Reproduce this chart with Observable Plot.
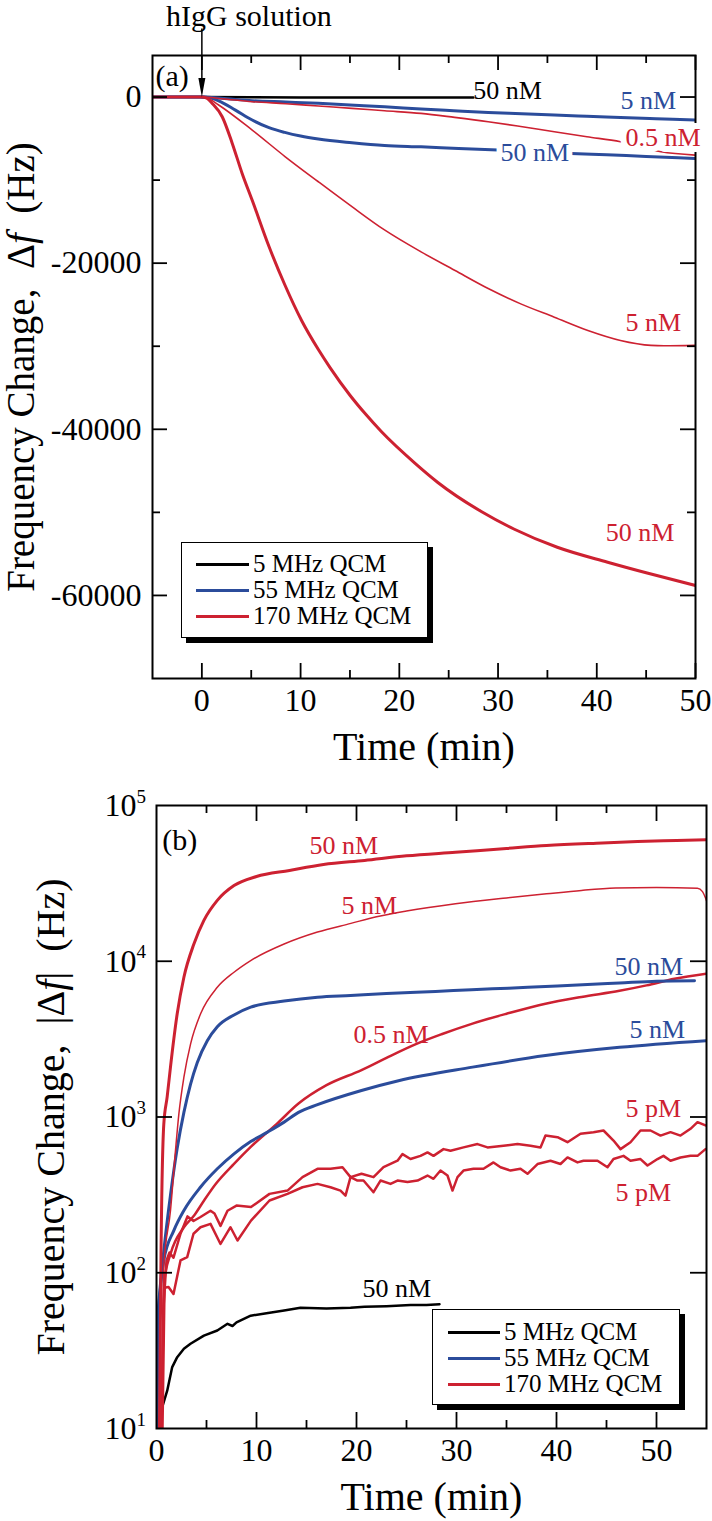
<!DOCTYPE html>
<html><head><meta charset="utf-8">
<script src="https://cdn.jsdelivr.net/npm/d3@7"></script>
<script src="https://cdn.jsdelivr.net/npm/@observablehq/plot@0.6"></script>
<style>
body{margin:0;background:#fff;}
#wrap{position:relative;width:712px;height:1521px;font-family:"Liberation Serif","Times New Roman",serif;overflow:hidden;}
#wrap svg{display:block;}
.legend{position:absolute;background:#fff;border:1.5px solid #000;box-shadow:5px 5px 0 #000;font-size:25px;box-sizing:border-box;}
.legend .row{position:absolute;left:0;height:24px;display:flex;align-items:center;white-space:nowrap;line-height:24px;}
.legend .sw{display:inline-block;height:3px;margin-right:4px;}
</style></head><body><div id="wrap"></div>
<script>
const RED = "#cd2131", BLUE = "#2b4c9b", BLACK = "#000000";

// ---------- Panel (a): frequency change (Hz) vs time (min) ----------
const a_t_5MHz_50nM = [0, 5, 10, 15, 20, 27.5];
const a_f_5MHz_50nM = [0, -40, -50, -55, -60, -60];

const a_t_55MHz_50nM = [-5, 0, 0.8, 1.7, 3.4, 5.1, 6.8, 8.4, 10, 11.8, 15.2, 18.5, 22.2, 26, 30, 33.5, 37.4, 41, 45, 50];
const a_f_55MHz_50nM = [0, 0, -100, -450, -1570, -2770, -3690, -4260, -4700, -5060, -5500, -5830, -6000, -6200, -6390, -6550, -6790, -6950, -7150, -7390];

const a_t_55MHz_5nM = [-5, 0, 2, 5.1, 8.5, 11.8, 15, 18.5, 22.2, 25.5, 29, 32.4, 35.7, 39, 42.4, 46, 50];
const a_f_55MHz_5nM = [0, 0, -150, -440, -600, -760, -960, -1160, -1450, -1650, -1850, -2010, -2170, -2310, -2450, -2600, -2770];

const a_t_170MHz_50nM = [-5, 0, 0.5, 1.05, 2.06, 3.07, 4.08, 5.09, 6.8, 8.4, 10.1, 11.8, 13, 15, 16.6, 18.2, 21.6, 23.9, 28.3, 31.6, 36, 41.1, 45.1, 50];
const a_f_170MHz_50nM = [0, 0, -150, -770, -2370, -5550, -9200, -12400, -18000, -22600, -26900, -30400, -32600, -35900, -38200, -40300, -44100, -46400, -49900, -52000, -54200, -56000, -57300, -58800];

const a_t_170MHz_5nM = [-5, 0, 0.6, 1.7, 5.1, 8.45, 11.8, 15.2, 18.5, 22.2, 25.6, 29, 32.3, 35.7, 39.1, 42.4, 45.5, 46.8, 50];
const a_f_170MHz_5nM = [0, 0, -150, -960, -3980, -7190, -10200, -13200, -16000, -18640, -20850, -23050, -24900, -26500, -28100, -29300, -29900, -29950, -29900];

const a_t_170MHz_05nM = [-5, 0, 2, 5.1, 8.5, 11.8, 15.2, 18.5, 22.2, 25.6, 29, 32.3, 35.7, 39, 42.4, 46.5, 50];
const a_f_170MHz_05nM = [0, 0, -200, -560, -800, -1080, -1360, -1650, -1970, -2450, -2970, -3550, -4180, -4780, -5380, -6590, -7000];

const a_xLabels = [0, 10, 20, 30, 40, 50];
const a_xMinor = [5, 15, 25, 35, 45];
const a_yLabels = [0, -20000, -40000, -60000];
const a_yMinor = [-10000, -30000, -50000];

const a_notes = [
  {t: 27.5, f: 800, text: "50 nM", color: BLACK, halo: false},
  {t: 42.4, f: -400, text: "5 nM", color: BLUE, halo: false},
  {t: 42.9, f: -4835, text: "0.5 nM", color: RED, halo: true},
  {t: 30.25, f: -6737, text: "50 nM", color: BLUE, halo: true},
  {t: 42.9, f: -27140, text: "5 nM", color: RED, halo: false},
  {t: 40.9, f: -52400, text: "50 nM", color: RED, halo: false}
];

// ---------- Panel (b): |frequency change| (Hz), log scale ----------
const b_t_5MHz_50nM = [0.07, 0.57, 1.07, 1.57, 2.07, 2.74, 3.4, 4.74, 6.08, 7.1, 7.6, 8.0, 9.42, 11, 12.76, 14.4, 17, 19.4, 20.8, 23, 25.4, 27, 28.3];
const b_f_5MHz_50nM = [10.2, 13.7, 17.5, 24.8, 28.7, 32.5, 35, 39.5, 42.6, 47, 45.5, 48, 53, 55, 57.2, 59.6, 59, 59.6, 60.5, 61, 62, 62, 62.8];

const b_t_55MHz_50nM = [0.05, 0.1, 0.4, 0.73, 1.4, 2.07, 2.74, 3.4, 4.08, 5.08, 6.08, 7.75, 9.42, 12.76, 16.1, 19.4, 23, 27.9, 31.5, 35.2, 38.9, 42.6, 46.3, 50, 53.8];
const b_f_55MHz_50nM = [10, 45, 85, 138, 316, 630, 1070, 1620, 2240, 3090, 3800, 4520, 5070, 5550, 5880, 6030, 6200, 6400, 6560, 6720, 6890, 7060, 7250, 7450, 7500];

const b_t_55MHz_5nM = [0.05, 0.15, 0.4, 0.73, 1.74, 2.74, 4.41, 6.08, 7.75, 9.42, 11.1, 12.76, 14.2, 16.1, 20.5, 24.2, 31.6, 38.9, 46.3, 55];
const b_f_55MHz_5nM = [10, 45, 80, 120, 187, 251, 355, 465, 580, 695, 800, 927, 1070, 1200, 1480, 1710, 2090, 2480, 2800, 3090];

const b_t_170MHz_50nM = [0.3, 0.45, 0.73, 1.07, 1.4, 2.07, 2.74, 3.74, 4.74, 6.08, 7.75, 10, 13.3, 16.7, 20.8, 25, 29.9, 35, 39, 44, 48.1, 52, 55];
const b_f_170MHz_50nM = [10, 130, 900, 1350, 2100, 4600, 7900, 12900, 18300, 24600, 30600, 35000, 38300, 41800, 44400, 47500, 50100, 53000, 55300, 57300, 58700, 59600, 60300];

const b_t_170MHz_5nM = [0.5, 0.73, 1.4, 1.9, 2.24, 2.74, 3.41, 4.41, 6.08, 7.75, 9.42, 12.76, 16.1, 19.44, 22, 25, 29.9, 35, 39, 42.5, 45.9, 50, 54.1, 54.6, 55];
const b_f_170MHz_5nM = [10, 110, 251, 610, 1050, 1800, 2950, 4600, 6800, 8500, 10100, 12900, 15400, 17500, 19300, 21000, 23400, 25500, 27100, 28500, 29500, 29800, 29400, 28000, 24500];

const b_t_170MHz_05nM = [0.5, 0.8, 1.4, 2.74, 3.8, 4.74, 5.9, 7.75, 9.45, 12, 14.2, 17, 20.5, 23, 26, 28.5, 31.6, 35, 38.9, 42.5, 46.3, 49, 51.8, 55];
const b_f_170MHz_05nM = [10, 90, 132, 196, 235, 290, 370, 500, 645, 900, 1220, 1600, 2000, 2400, 2950, 3400, 3980, 4600, 5340, 5900, 6460, 7000, 7710, 8320];

const b_t_170MHz_5pM_a = [0.5,0.7,1.0,1.3,1.7,2.4,3.1,3.7,4.4,5.4,5.8,6.4,7.1,8.0,9.45,11.3,13.1,14.6,16.1,17.4,18.6,19.4,20.5,21.7,22.7,24.1,24.6,25.4,26.4,27.1,27.7,28.7,29.4,30.7,32.1,33.1,34.7,36.1,37.4,38.4,38.9,40.1,41.1,42.4,43.7,44.7,45.7,46.4,47.4,48.4,49.4,50.4,51.4,52.4,53.4,54.1,54.9];
const b_f_170MHz_5pM_a = [10,60,120,135,125,178,230,215,228,250,240,200,250,270,264,321,337,411,465,465,476,411,432,411,476,524,578,537,563,592,563,622,607,638,670,638,654,670,654,638,760,742,689,780,799,819,706,622,689,819,819,760,799,760,840,926,883];

const b_t_170MHz_5pM_b = [0.6,0.8,1.2,1.7,2.4,3.07,3.7,4.4,5.4,6.4,7.4,8.1,9.45,11.3,13.1,14.6,16.1,17.4,18.4,18.9,19.4,20.1,20.7,21.7,22.4,23.4,24.1,25.1,26.1,27.1,27.7,28.4,29.1,29.6,30.1,30.7,31.7,32.7,33.7,34.4,35.4,36.4,37.1,38.1,39.4,40.4,41.1,42.1,42.7,44.1,45.1,45.7,46.7,47.4,48.4,49.1,50.1,50.7,51.4,52.4,53.4,54.1,54.9];
const b_f_170MHz_5pM_b = [10,80,81,73,120,126,178,196,206,153,196,161,216,291,321,354,372,354,337,313,411,391,391,329,391,372,391,382,391,421,401,453,421,337,411,453,465,465,511,476,453,465,432,499,524,499,550,511,524,524,476,537,563,524,537,488,537,563,524,550,563,563,622];

const b_xLabels = [0, 10, 20, 30, 40, 50];
const b_xMajor = [10, 20, 30, 40, 50];
const b_xMinor = [5, 15, 25, 35, 45];
const b_yTicks = [10, 100, 1000, 10000, 100000];
const b_yExp = ["1", "2", "3", "4", "5"];
const b_yInner = [100, 1000, 10000];

const b_notes = [
  {t: 15.3, f: 55300, text: "50 nM", color: RED},
  {t: 18.5, f: 22900, text: "5 nM", color: RED},
  {t: 45.8, f: 9250, text: "50 nM", color: BLUE},
  {t: 19.7, f: 3390, text: "0.5 nM", color: RED},
  {t: 47.3, f: 3630, text: "5 nM", color: BLUE},
  {t: 46.9, f: 1135, text: "5 pM", color: RED},
  {t: 45.9, f: 325, text: "5 pM", color: RED},
  {t: 20.6, f: 79, text: "50 nM", color: BLACK}
];

const legendNames = ["5 MHz QCM", "55 MHz QCM", "170 MHz QCM"];
const legendColors = [BLACK, BLUE, RED];

function rows(ts, vs) { return ts.map((t, i) => ({t, v: vs[i]})); }
const FONT = "Liberation Serif, Times New Roman, serif";

// ---------- build panel (a) ----------
const A = {W: 712, H: 775, mt: 55, mb: 97, ml: 152, mr: 17};
const aIH = A.H - A.mt - A.mb, aIW = A.W - A.ml - A.mr;
const arrowHead = {draw(ctx) { ctx.moveTo(-3.5, -19); ctx.lineTo(3.5, -19); ctx.lineTo(0, 0); ctx.closePath(); }};

const line = (data, stroke, sw, curve = "monotone-x") =>
  Plot.line(data, {x: "t", y: "v", stroke, strokeWidth: sw, curve, clip: true});

const plotA = Plot.plot({
  width: A.W, height: A.H, marginTop: A.mt, marginBottom: A.mb, marginLeft: A.ml, marginRight: A.mr,
  x: {domain: [-5, 50], axis: null},
  y: {domain: [-70000, 5000], axis: null},
  style: {fontFamily: FONT, background: "white", overflow: "visible"},
  marks: [
    line(rows(a_t_5MHz_50nM, a_f_5MHz_50nM), BLACK, 2.5, "linear"),
    line(rows(a_t_55MHz_5nM, a_f_55MHz_5nM), BLUE, 3),
    line(rows(a_t_55MHz_50nM, a_f_55MHz_50nM), BLUE, 3),
    line(rows(a_t_170MHz_05nM, a_f_170MHz_05nM), RED, 1.6),
    line(rows(a_t_170MHz_5nM, a_f_170MHz_5nM), RED, 1.6),
    line(rows(a_t_170MHz_50nM, a_f_170MHz_50nM), RED, 3),
    Plot.frame({stroke: "black", strokeWidth: 2}),
    Plot.ruleX(a_xLabels, {insetTop: aIH - 15, stroke: "black", strokeWidth: 1.8}),
    Plot.ruleX(a_xLabels, {insetBottom: aIH - 15, stroke: "black", strokeWidth: 1.8}),
    Plot.ruleX(a_xMinor, {insetTop: aIH - 8, stroke: "black", strokeWidth: 1.8}),
    Plot.ruleX(a_xMinor, {insetBottom: aIH - 8, stroke: "black", strokeWidth: 1.8}),
    Plot.ruleY(a_yLabels, {insetRight: aIW - 15, stroke: "black", strokeWidth: 1.8}),
    Plot.ruleY(a_yLabels, {insetLeft: aIW - 15, stroke: "black", strokeWidth: 1.8}),
    Plot.ruleY(a_yMinor, {insetRight: aIW - 8, stroke: "black", strokeWidth: 1.8}),
    Plot.ruleY(a_yMinor, {insetLeft: aIW - 8, stroke: "black", strokeWidth: 1.8}),
    Plot.axisX({ticks: a_xLabels, anchor: "bottom", tickSize: 0, tickPadding: 10, fontSize: 32, fill: "black", tickFormat: d => String(d), label: null}),
    Plot.axisY({ticks: a_yLabels, anchor: "left", tickSize: 0, tickPadding: 11, fontSize: 32, fill: "black", tickFormat: d => String(d), label: null}),
    Plot.text(["Time (min)"], {frameAnchor: "bottom", lineAnchor: "middle", dy: 69, fontSize: 40, fill: "black"}),
    Plot.text(["Frequency Change,\u00a0\u00a0Δf\u00a0\u00a0(Hz)"], {frameAnchor: "left", textAnchor: "middle", lineAnchor: "middle", dx: -131, rotate: -90, fontSize: 39, fill: "black"}),
    Plot.text(["(a)"], {x: () => -4.7, y: () => 2472, textAnchor: "start", fontSize: 30, fill: "black"}),
    Plot.text(["hIgG solution"], {x: () => 4.77, y: () => 9695, fontSize: 30, fill: "black"}),
    Plot.ruleX([0], {y1: 8200, y2: 1500, stroke: "black", strokeWidth: 1.5}),
    Plot.dot([0], {x: d => d, y: () => 0, symbol: arrowHead, fill: "black", stroke: null}),
    Plot.text(a_notes.filter(d => d.halo), {x: "t", y: "f", text: "text", textAnchor: "start", fontSize: 26, fill: "white", stroke: "white", strokeWidth: 12, strokeLinejoin: "round"}),
    Plot.text(a_notes, {x: "t", y: "f", text: "text", textAnchor: "start", fontSize: 26, fill: d => d.color})
  ]
});

// ---------- build panel (b) ----------
const B = {W: 712, H: 746, mt: 30, mb: 93, ml: 156, mr: 6};
const bIH = B.H - B.mt - B.mb, bIW = B.W - B.ml - B.mr;

const plotB = Plot.plot({
  width: B.W, height: B.H, marginTop: B.mt, marginBottom: B.mb, marginLeft: B.ml, marginRight: B.mr,
  x: {domain: [0, 55], axis: null},
  y: {type: "log", domain: [10, 100000], axis: null},
  style: {fontFamily: FONT, background: "white", overflow: "visible"},
  marks: [
    line(rows(b_t_5MHz_50nM, b_f_5MHz_50nM), BLACK, 2.5, "linear"),
    line(rows(b_t_170MHz_5pM_b, b_f_170MHz_5pM_b), RED, 2.5, "linear"),
    line(rows(b_t_170MHz_5pM_a, b_f_170MHz_5pM_a), RED, 2.5, "linear"),
    line(rows(b_t_170MHz_05nM, b_f_170MHz_05nM), RED, 2.5),
    line(rows(b_t_55MHz_5nM, b_f_55MHz_5nM), BLUE, 3),
    line(rows(b_t_55MHz_50nM, b_f_55MHz_50nM), BLUE, 3),
    line(rows(b_t_170MHz_5nM, b_f_170MHz_5nM), RED, 1.5),
    line(rows(b_t_170MHz_50nM, b_f_170MHz_50nM), RED, 3),
    Plot.frame({stroke: "black", strokeWidth: 2}),
    Plot.ruleX(b_xMajor, {insetTop: bIH - 16, stroke: "black", strokeWidth: 1.8}),
    Plot.ruleX(b_xMajor, {insetBottom: bIH - 16, stroke: "black", strokeWidth: 1.8}),
    Plot.ruleX(b_xMinor, {insetTop: bIH - 8, stroke: "black", strokeWidth: 1.8}),
    Plot.ruleX(b_xMinor, {insetBottom: bIH - 8, stroke: "black", strokeWidth: 1.8}),
    Plot.ruleY(b_yInner, {insetRight: bIW - 16, stroke: "black", strokeWidth: 1.8}),
    Plot.ruleY(b_yInner, {insetLeft: bIW - 16, stroke: "black", strokeWidth: 1.8}),
    Plot.axisX({ticks: b_xLabels, anchor: "bottom", tickSize: 0, tickPadding: 10, fontSize: 32, fill: "black", tickFormat: d => String(d), label: null}),
    Plot.text(b_yTicks, {y: d => d, frameAnchor: "left", text: () => "10", textAnchor: "end", dx: -20, fontSize: 32, fill: "black"}),
    Plot.text(b_yTicks, {y: d => d, frameAnchor: "left", text: (d, i) => b_yExp[i], textAnchor: "start", dx: -20, dy: -9, fontSize: 19, fill: "black"}),
    Plot.text(["Time (min)"], {frameAnchor: "bottom", lineAnchor: "middle", dy: 69, fontSize: 40, fill: "black"}),
    Plot.text(["Frequency Change,\u00a0\u00a0|Δf|\u00a0\u00a0(Hz)"], {frameAnchor: "left", textAnchor: "middle", lineAnchor: "middle", dx: -105, rotate: -90, fontSize: 40, fill: "black"}),
    Plot.text(["(b)"], {x: () => 0.57, y: () => 59600, textAnchor: "start", fontSize: 30, fill: "black"}),
    Plot.text(b_notes, {x: "t", y: "f", text: "text", textAnchor: "start", fontSize: 26, fill: d => d.color})
  ]
});

function italicizeF(svg) {
  d3.select(svg).selectAll("text").each(function() {
    const s = this.textContent;
    const i = s.indexOf("Δf");
    if (i < 0 || this.children.length) return;
    const el = d3.select(this);
    el.text(null);
    el.append("tspan").text(s.slice(0, i + 1));
    el.append("tspan").attr("font-style", "italic").text("f");
    el.append("tspan").text(s.slice(i + 2));
  });
}
italicizeF(plotA); italicizeF(plotB);

const wrap = document.getElementById("wrap");
wrap.appendChild(plotA);
wrap.appendChild(plotB);

function legend(left, top, width, rowTops, lineOffset, lineWidth) {
  const box = document.createElement("div");
  box.className = "legend";
  Object.assign(box.style, {left: left + "px", top: top + "px", width: width + "px", height: "96px"});
  legendNames.forEach((name, i) => {
    const row = document.createElement("div");
    row.className = "row";
    row.style.top = (rowTops[i] - 12) + "px";
    row.style.left = lineOffset + "px";
    const sw = document.createElement("span");
    sw.className = "sw";
    sw.style.width = lineWidth + "px";
    sw.style.background = legendColors[i];
    row.appendChild(sw);
    row.appendChild(document.createTextNode(name));
    box.appendChild(row);
  });
  wrap.appendChild(box);
}
legend(181, 542, 247, [21, 47, 73], 14, 53);
legend(432, 1309, 248, [22, 48, 74], 15, 52);
</script></body></html>
